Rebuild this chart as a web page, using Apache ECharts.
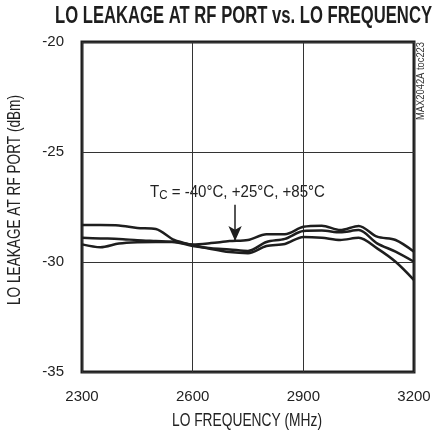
<!DOCTYPE html>
<html>
<head>
<meta charset="utf-8">
<script src="https://cdn.jsdelivr.net/npm/echarts@6/dist/echarts.min.js"></script>
<style>
  html, body { margin: 0; padding: 0; background: #fff; }
  #chart { width: 435px; height: 436px; }
</style>
</head>
<body>
<div id="chart"></div>
<script>
// LO frequency (MHz)
const freqs = [2300, 2350, 2400, 2450, 2500, 2550, 2600, 2650, 2700, 2750,
  2800, 2850, 2900, 2950, 3000, 3050, 3100, 3150, 3200];

// LO leakage (dBm), three temperature curves
const curveA = [-28.32, -28.32, -28.34, -28.45, -28.50, -29.00, -29.23, -29.41, -29.55, -29.60,
  -29.27, -29.18, -28.86, -28.90, -29.00, -28.90, -29.38, -29.99, -30.82];
const curveB = [-28.90, -28.93, -28.95, -29.01, -29.05, -29.09, -29.27, -29.38, -29.43, -29.50,
  -29.09, -28.95, -28.59, -28.57, -28.65, -28.55, -29.15, -29.53, -29.99];
const curveC = [-29.20, -29.33, -29.16, -29.10, -29.09, -29.09, -29.20, -29.14, -29.05, -29.00,
  -28.74, -28.74, -28.40, -28.35, -28.55, -28.36, -28.85, -29.00, -29.53];

const xTicks = [2300, 2600, 2900, 3200];
const yTicks = [-35, -30, -25, -20];

// arrow pointing at the curves
const arrowFreq = 2715;
const arrowFrom = -27.4;
const arrowTo = -29.05;

const FONT = '"Liberation Sans", Arial, sans-serif';
const INK = '#1e1e1e';

// condensed look: measure the text and squeeze it to the wanted width
const measureCtx = document.createElement('canvas').getContext('2d');
const textWidth = (text, font) => {
  measureCtx.font = font;
  return measureCtx.measureText(text).width;
};

const squeezed = (text, size, weight, width, cx, cy, rotation, color) => {
  const font = weight + ' ' + size + 'px ' + FONT;
  return {
    type: 'text',
    x: cx,
    y: cy,
    rotation: rotation || 0,
    scaleX: width / textWidth(text, font),
    style: {
      text,
      font,
      fill: color || INK,
      align: 'center',
      verticalAlign: 'middle',
    },
  };
};

// annotation T_C = ... with a subscript
const annoMain = ' = -40°C, +25°C, +85°C';
const annoSize = 17;
const annoW = textWidth('T', annoSize + 'px ' + FONT)
  + textWidth('C', '13px ' + FONT) + textWidth(annoMain, annoSize + 'px ' + FONT);

const chart = echarts.init(document.getElementById('chart'));

const mkSeries = (data, extra) => Object.assign({
  type: 'line',
  data: freqs.map((f, i) => [f, data[i]]),
  showSymbol: false,
  smooth: 0.3,
  lineStyle: { color: INK, width: 2.5 },
  z: 3,
}, extra || {});

chart.setOption({
  animation: false,
  grid: {
    left: 82, right: 21, top: 42, bottom: 64,
    show: true, borderColor: INK, borderWidth: 3,
  },
  xAxis: {
    type: 'value',
    min: xTicks[0], max: xTicks[xTicks.length - 1], interval: 300,
    axisLine: { show: false },
    axisTick: { show: false },
    axisLabel: { fontFamily: FONT, fontSize: 15, color: '#222', margin: 17, formatter: (v) => String(v) },
    splitLine: { show: true, lineStyle: { color: '#333', width: 1 } },
  },
  yAxis: {
    type: 'value',
    min: yTicks[0], max: yTicks[yTicks.length - 1], interval: 5,
    axisLine: { show: false },
    axisTick: { show: false },
    axisLabel: { fontFamily: FONT, fontSize: 15, color: '#222', margin: 18, formatter: (v) => String(v) },
    splitLine: { show: true, lineStyle: { color: '#333', width: 1 } },
  },
  series: [
    mkSeries(curveA, {
      markLine: {
        silent: true,
        symbol: ['none', 'arrow'],
        symbolSize: [10, 15],
        label: { show: false },
        lineStyle: { color: INK, width: 1.5, type: 'solid' },
        data: [[{ coord: [arrowFreq, arrowFrom] }, { coord: [arrowFreq, arrowTo] }]],
      },
    }),
    mkSeries(curveB),
    mkSeries(curveC),
  ],
  graphic: [
    squeezed('LO LEAKAGE AT RF PORT vs. LO FREQUENCY', 23, 'bold', 377, 243.5, 17),
    squeezed('LO FREQUENCY (MHz)', 18, 'normal', 150, 247, 421, 0, '#222'),
    squeezed('LO LEAKAGE AT RF PORT (dBm)', 19, 'normal', 210, 15, 200, Math.PI / 2, '#222'),
    squeezed('MAX2042A toc223', 10, 'normal', 78, 421, 81, Math.PI / 2, '#333'),
    {
      type: 'text',
      x: 237.5,
      y: 192,
      scaleX: 175 / annoW,
      style: {
        text: 'T{sub|C}' + annoMain,
        font: annoSize + 'px ' + FONT,
        fill: '#222',
        align: 'center',
        verticalAlign: 'middle',
        rich: {
          sub: { fontFamily: FONT, fontSize: 13, fill: '#222', padding: [6, 0, 0, 0] },
        },
      },
    },
  ],
});
</script>
</body>
</html>
